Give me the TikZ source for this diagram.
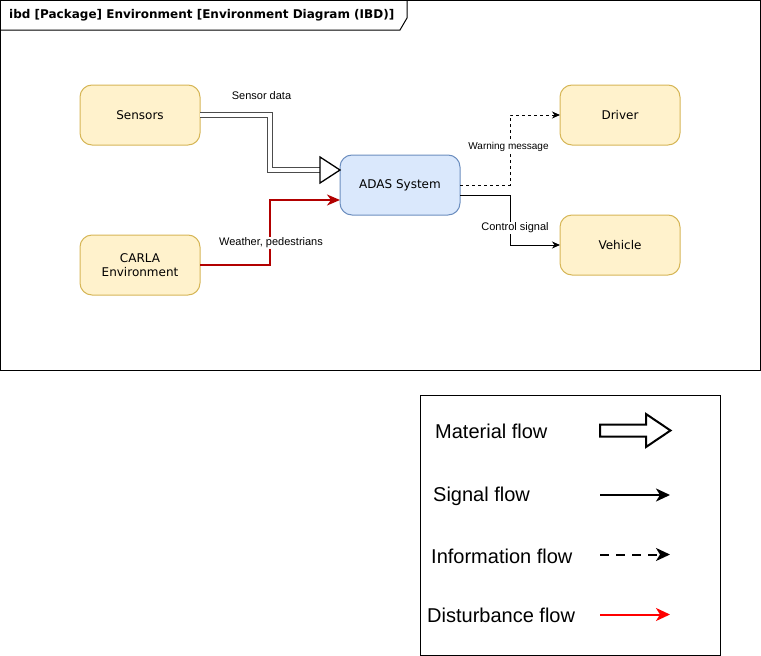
\documentclass[tikz,border=0pt]{standalone}
\usepackage{fontspec}
\setmainfont{DejaVu Sans}
\newfontfamily\arialf{Liberation Sans}
\usetikzlibrary{arrows.meta,calc}
\definecolor{boxfill}{HTML}{FFF2CC}
\definecolor{boxline}{HTML}{D6B656}
\definecolor{adasfill}{HTML}{DAE8FC}
\definecolor{adasline}{HTML}{6C8EBF}
\definecolor{distred}{HTML}{B20000}
\definecolor{legred}{HTML}{FF0000}
\tikzset{
  block/.style={draw=boxline, fill=boxfill, line width=1pt, rounded corners=12pt,
    minimum width=120pt, minimum height=60pt, inner sep=0pt, outer sep=0pt,
    align=center, font=\fontsize{12}{14.6}\selectfont},
  adasblock/.style={block, draw=adasline, fill=adasfill},
  smallhead/.style={-{Stealth[length=8pt,width=7pt,inset=2.5pt]}},
  sigline/.style={draw=black, line width=1pt, smallhead},
  infoline/.style={draw=black, line width=1pt, dash pattern=on 3pt off 3pt, smallhead},
  distline/.style={draw=distred, line width=2pt, -{Stealth[length=13pt,width=11pt,inset=4pt]}},
  matshaft/.style={draw=black!70, line width=1pt, double=white, double distance=4pt, line join=miter},
  elabel/.style={fill=white, inner sep=1pt, font=\arialf\fontsize{11}{13}\selectfont},
  legtext/.style={anchor=west, inner sep=0pt, font=\arialf\fontsize{20}{24}\selectfont},
  legline/.style={line width=2pt, -{Stealth[length=14pt,width=13pt,inset=4pt]}}
}
\begin{document}
\begin{tikzpicture}[x=1pt,y=-1pt]
\useasboundingbox (0,0) rectangle (761,656);
% frame
\draw[line width=1pt] (0.5,0.5) rectangle (760.5,370.5);
\draw[line width=1pt] (0.5,30) -- (400,30) -- (407,18) -- (407,0.5);
\node[anchor=west, inner sep=0pt, font=\bfseries\fontsize{12}{14}\selectfont] (title) at (9,15)
  {ibd [Package] Environment [Environment Diagram (IBD)]};
% blocks
\node[block] (sensors) at (140,115) {Sensors};
\node[block] (carla) at (140,265) {CARLA\\Environment};
\node[adasblock] (adas) at (400,185) {ADAS System};
\node[block] (driver) at (620,115) {Driver};
\node[block] (vehicle) at (620,245) {Vehicle};
% material flow (sensor data)
\coordinate (sdbase) at ($(adas.west)+(-20,-15)$);
\draw[matshaft] (sensors.east) -- ++(70,0) |- (sdbase);
\draw[line width=1.3pt, fill=white, line join=miter]
  ($(adas.west)+(-20,-28)$) -- ($(adas.west)+(0,-15)$) -- ($(adas.west)+(-20,-2)$) -- cycle;
\node[elabel] (lsd) at (261.5,96) {Sensor data};
% disturbance
\draw[distline] (carla.east) -- ++(70,0) |- ($(adas.west)+(0,15)$);
\node[elabel] (lwp) at (271,243) {Weather, pedestrians};
% outputs
\draw[infoline] (adas.east) -- ++(50,0) |- (driver.west);
\draw[sigline] ($(adas.east)+(0,10)$) -- ++(50,0) |- (vehicle.west);
\node[elabel, font=\arialf\fontsize{10}{12}\selectfont] (lwm) at (508.5,147) {Warning message};
\node[elabel] (lcs) at (515,228) {Control signal};
% legend
\draw[line width=1pt] (420.5,395.5) rectangle (720.5,655.5);
\node[legtext] (tmat) at (435,431) {Material flow};
\node[legtext] (tsig) at (433,496) {Signal flow};
\node[legtext] (tinf) at (431,556.5) {Information flow};
\node[legtext] (tdis) at (427,615) {Disturbance flow};
\draw[line width=2pt, fill=white, line join=miter]
  (600,424.5) -- (646,424.5) -- (646,414) -- (670.5,430.5) -- (646,447) -- (646,436.5) -- (600,436.5) -- cycle;
\coordinate (s1) at (600,495); \coordinate (s2) at (670,495);
\coordinate (i1) at (600,554.5); \coordinate (i2) at (670,554.5);
\coordinate (d1) at (600,614.5); \coordinate (d2) at (670,614.5);
\draw[legline] (s1) -- (s2);
\draw[legline, dash pattern=on 9pt off 7pt] (i1) -- (i2);
\draw[legline, draw=legred, fill=legred] (d1) -- (d2);
\end{tikzpicture}
\end{document}
